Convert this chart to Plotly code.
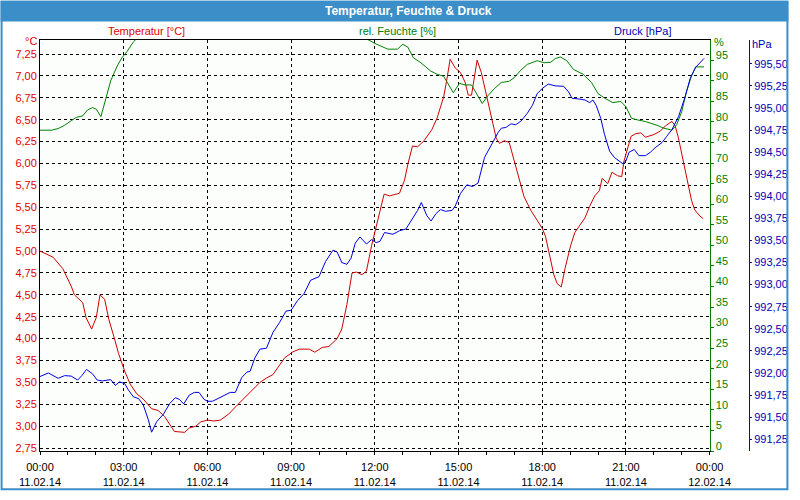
import numpy as np
import pandas as pd
import plotly.graph_objects as go

# ---- data (minutes after 11.02.14 00:00) ----
temp_min = [0, 28, 49, 67, 74, 92, 99, 111, 121, 129, 139, 148, 159, 169, 182, 194, 208, 222, 240, 254,
            268, 289, 311, 321, 335, 346, 360, 374, 388, 406, 424, 452, 473, 487, 501, 526, 544, 558, 579, 591,
            607, 621, 639, 649, 660, 671, 681, 692, 702, 713, 720, 731, 740, 752, 773, 784, 791, 801, 812, 826,
            843, 854, 868, 874, 882, 893, 904, 914, 921, 928, 932, 940, 949, 960, 971, 981, 988, 999, 1009, 1020,
            1031, 1041, 1055, 1069, 1080, 1087, 1094, 1105, 1112, 1121, 1129, 1141, 1150, 1161, 1172, 1182, 1193, 1203, 1209, 1221,
            1230, 1242, 1251, 1256, 1264, 1271, 1281, 1292, 1302, 1320, 1334, 1345, 1359, 1366, 1373, 1383, 1394, 1401, 1408, 1419, 1426]
temp_val = [5.00, 4.93, 4.80, 4.60, 4.50, 4.41, 4.24, 4.11, 4.24, 4.50, 4.45, 4.22, 4.02, 3.83, 3.63, 3.48, 3.37, 3.31, 3.20, 3.18,
            3.11, 2.94, 2.93, 2.98, 3.00, 3.05, 3.07, 3.06, 3.07, 3.14, 3.24, 3.39, 3.50, 3.55, 3.59, 3.78, 3.85, 3.88, 3.88, 3.845,
            3.90, 3.91, 4.00, 4.11, 4.39, 4.75, 4.76, 4.73, 4.77, 5.06, 5.21, 5.47, 5.65, 5.63, 5.66, 5.81, 5.99, 6.20, 6.19, 6.26,
            6.39, 6.52, 6.76, 6.93, 7.19, 7.09, 7.04, 6.93, 6.78, 6.78, 6.93, 7.18, 7.04, 6.78, 6.52, 6.29, 6.23, 6.26, 6.24, 6.03,
            5.81, 5.62, 5.47, 5.36, 5.26, 5.17, 5.01, 4.73, 4.63, 4.59, 4.80, 5.06, 5.21, 5.29, 5.38, 5.51, 5.63, 5.69, 5.83, 5.77,
            5.90, 5.86, 5.85, 6.03, 6.18, 6.31, 6.34, 6.35, 6.30, 6.33, 6.37, 6.43, 6.48, 6.43, 6.29, 6.05, 5.77, 5.58, 5.47, 5.40, 5.37]

hum_min = [0, 25, 39, 53, 67, 78, 92, 102, 113, 121, 131, 141, 152, 166, 176, 187, 201, 215, 300, 450,
           600, 690, 706, 720, 748, 769, 780, 791, 803, 819, 840, 854, 868, 878, 889, 902, 914, 928, 939, 951,
           964, 978, 992, 1009, 1020, 1034, 1048, 1069, 1084, 1098, 1108, 1119, 1133, 1147, 1168, 1186, 1200, 1214, 1232, 1249,
           1260, 1272, 1285, 1302, 1327, 1341, 1359, 1369, 1380, 1390, 1401, 1410, 1428]
hum_val = [78.0, 78.0, 78.4, 79.2, 80.3, 81.1, 81.5, 82.9, 83.5, 83.1, 81.3, 85.3, 90.0, 93.6, 95.6, 97.1, 99.5, 101.0, 103.0, 104.0,
           103.0, 101.0, 99.9, 99.1, 97.7, 97.7, 98.9, 98.2, 95.6, 94.4, 92.4, 91.6, 91.1, 89.2, 87.1, 89.4, 89.0, 89.0, 86.9, 84.5,
           86.5, 88.2, 89.6, 89.9, 90.8, 92.6, 94.0, 94.9, 94.4, 94.5, 95.4, 95.8, 94.9, 92.8, 91.6, 89.6, 86.9, 85.8, 84.7, 85.0,
           83.7, 80.9, 80.5, 80.1, 79.2, 78.5, 78.0, 79.3, 82.5, 87.3, 91.2, 93.4, 93.4]

pres_min = [0, 18, 39, 53, 67, 81, 90, 100, 113, 123, 134, 152, 162, 171, 182, 191, 201, 212, 222, 233,
            240, 251, 265, 279, 291, 300, 309, 321, 332, 342, 353, 361, 371, 385, 395, 409, 420, 434, 445, 452,
            462, 473, 487, 501, 515, 529, 540, 554, 568, 582, 600, 614, 630, 639, 649, 660, 669, 678, 688, 702,
            713, 723, 731, 741, 759, 773, 787, 801, 812, 820, 832, 841, 851, 861, 872, 886, 893, 904, 918, 930,
            942, 956, 967, 976, 985, 992, 1002, 1013, 1023, 1034, 1048, 1059, 1069, 1080, 1093, 1108, 1126, 1137, 1144, 1161,
            1172, 1182, 1189, 1196, 1206, 1214, 1225, 1235, 1246, 1253, 1260, 1267, 1278, 1288, 1302, 1313, 1323, 1338, 1348, 1359,
            1373, 1387, 1398, 1410, 1428]
pres_val = [991.96, 992.00, 991.94, 991.97, 991.965, 991.92, 991.97, 992.04, 991.99, 991.92, 991.91, 991.925, 991.86, 991.90, 991.88, 991.80, 991.73, 991.71, 991.64, 991.47,
            991.33, 991.45, 991.53, 991.655, 991.72, 991.70, 991.65, 991.75, 991.78, 991.78, 991.70, 991.68, 991.68, 991.72, 991.74, 991.78, 991.78, 991.95, 992.01, 992.02,
            992.17, 992.27, 992.28, 992.46, 992.57, 992.70, 992.71, 992.82, 992.90, 993.05, 993.09, 993.26, 993.39, 993.37, 993.25, 993.23, 993.30, 993.47, 993.54, 993.46,
            993.51, 993.475, 993.49, 993.59, 993.57, 993.61, 993.63, 993.75, 993.84, 993.93, 993.78, 993.72, 993.80, 993.85, 993.83, 993.84, 993.89, 994.03, 994.13, 994.11,
            994.15, 994.44, 994.55, 994.64, 994.72, 994.77, 994.78, 994.82, 994.81, 994.85, 994.94, 995.03, 995.16, 995.22, 995.27, 995.25, 995.245, 995.18, 995.11, 995.10,
            995.09, 995.06, 995.09, 995.03, 994.88, 994.70, 994.51, 994.44, 994.40, 994.37, 994.40, 994.50, 994.53, 994.46, 994.46, 994.50, 994.55, 994.61, 994.68, 994.755,
            994.90, 995.12, 995.33, 995.46, 995.56]

temp_ticks = [2.75, 3.00, 3.25, 3.50, 3.75, 4.00, 4.25, 4.50, 4.75, 5.00, 5.25, 5.50, 5.75, 6.00, 6.25, 6.50, 6.75, 7.00, 7.25]
hum_ticks = list(range(0, 100, 5))
pres_ticks = [991.25, 991.50, 991.75, 992.00, 992.25, 992.50, 992.75, 993.00, 993.25, 993.50, 993.75, 994.00,
              994.25, 994.50, 994.75, 995.00, 995.25, 995.50]

start = pd.Timestamp("2014-02-11 00:00")
def to_time(mins):
    return [start + pd.Timedelta(minutes=m) for m in mins]

RED_LINE = "#d00000"
RED_TXT = "#e00000"
GREEN = "#008000"
BLUE_LINE = "#0000e0"
BLUE_TXT = "#0000b4"
FRAME = "#3c8ec8"
FONT = "Liberation Sans"

fig = go.Figure()
fig.add_trace(go.Scatter(x=to_time(temp_min), y=temp_val, mode="lines", yaxis="y",
                         line=dict(color=RED_LINE, width=1), showlegend=False))
fig.add_trace(go.Scatter(x=to_time(hum_min), y=hum_val, mode="lines", yaxis="y2",
                         line=dict(color=GREEN, width=1), showlegend=False))
fig.add_trace(go.Scatter(x=to_time(pres_min), y=pres_val, mode="lines", yaxis="y3",
                         line=dict(color=BLUE_LINE, width=1), showlegend=False))

W, H = 800, 500
L, R, T, B = 40, 40, 40, 40
pw, ph = W - L - R, H - T - B
def px(x):
    return (x - L) / pw
def py(y):
    return (H - B - y) / ph

fig.update_layout(
    width=W, height=H,
    margin=dict(l=L, r=R, t=T, b=B, pad=0),
    paper_bgcolor="white", plot_bgcolor="#fbfefb",
    separators=",.",
    font=dict(family=FONT, size=11, color="black"),
    xaxis=dict(type="date", domain=[0, 680 / pw],
               range=[start, start + pd.Timedelta(hours=24)],
               tick0=start, dtick=3 * 3600000,
               tickformat="%H:%M<br>%d.%m.%y",
               showgrid=True, gridcolor="black", gridwidth=1, griddash="3px,3px",
               showline=True, linecolor="black", linewidth=1, mirror=True,
               ticks="outside", ticklen=3, tickcolor="black", ticklabelstandoff=3,
               minor=dict(dtick=3600000, ticks="outside", ticklen=3, tickcolor="black", showgrid=False),
               tickfont=dict(family=FONT, size=11, color="black"),
               zeroline=False, fixedrange=True),
    yaxis=dict(range=[2.717, 7.41], tickvals=temp_ticks, tickformat=".2f",
               showgrid=True, gridcolor="black", gridwidth=1, griddash="3px,3px",
               showline=True, linecolor="black", linewidth=1, ticks="",
               tickfont=dict(family=FONT, size=11, color=RED_TXT), zeroline=False),
    yaxis2=dict(range=[0, 99.93], tickvals=hum_ticks, overlaying="y", side="right", anchor="x",
                showgrid=False, showline=True, linecolor=GREEN, linewidth=1,
                ticks="outside", ticklen=3, tickcolor=GREEN, ticklabelshift=-5,
                tickfont=dict(family=FONT, size=11, color=GREEN), zeroline=False),
    yaxis3=dict(range=[991.117, 995.769], tickvals=pres_ticks, tickformat=".2f",
                overlaying="y", side="right", anchor="free", position=1.0,
                showgrid=False, showline=True, linecolor=BLUE_LINE, linewidth=1,
                ticks="outside", ticklen=2, tickcolor=BLUE_LINE,
                tickfont=dict(family=FONT, size=11, color=BLUE_TXT), zeroline=False),
)

# frame + title bar
fig.add_shape(type="rect", xref="paper", yref="paper",
              x0=px(0), x1=px(W), y0=py(21), y1=py(0),
              fillcolor=FRAME, line=dict(width=0), layer="above")
fig.add_shape(type="rect", xref="paper", yref="paper",
              x0=px(1), x1=px(W - 1), y0=py(H - 1), y1=py(1),
              fillcolor="rgba(0,0,0,0)", line=dict(color=FRAME, width=2), layer="above")

def label(text, x, y, color, size=11, bold=False, anchor="center"):
    fig.add_annotation(text=("<b>%s</b>" % text) if bold else text,
                       xref="paper", yref="paper", x=px(x), y=py(y),
                       xanchor=anchor, yanchor="middle", showarrow=False,
                       font=dict(family=FONT, size=size, color=color))

label("Temperatur, Feuchte &amp; Druck", 414, 10, "white", size=12, bold=True)
label("Temperatur [°C]", 148, 31, RED_TXT)
label("rel. Feuchte [%]", 403, 31, GREEN)
label("Druck [hPa]", 652, 31, BLUE_TXT)
label("°C", 31, 41, RED_TXT)
label("%", 730, 42, GREEN)
label("hPa", 773, 44, BLUE_TXT)

fig.write_html("out.html")
